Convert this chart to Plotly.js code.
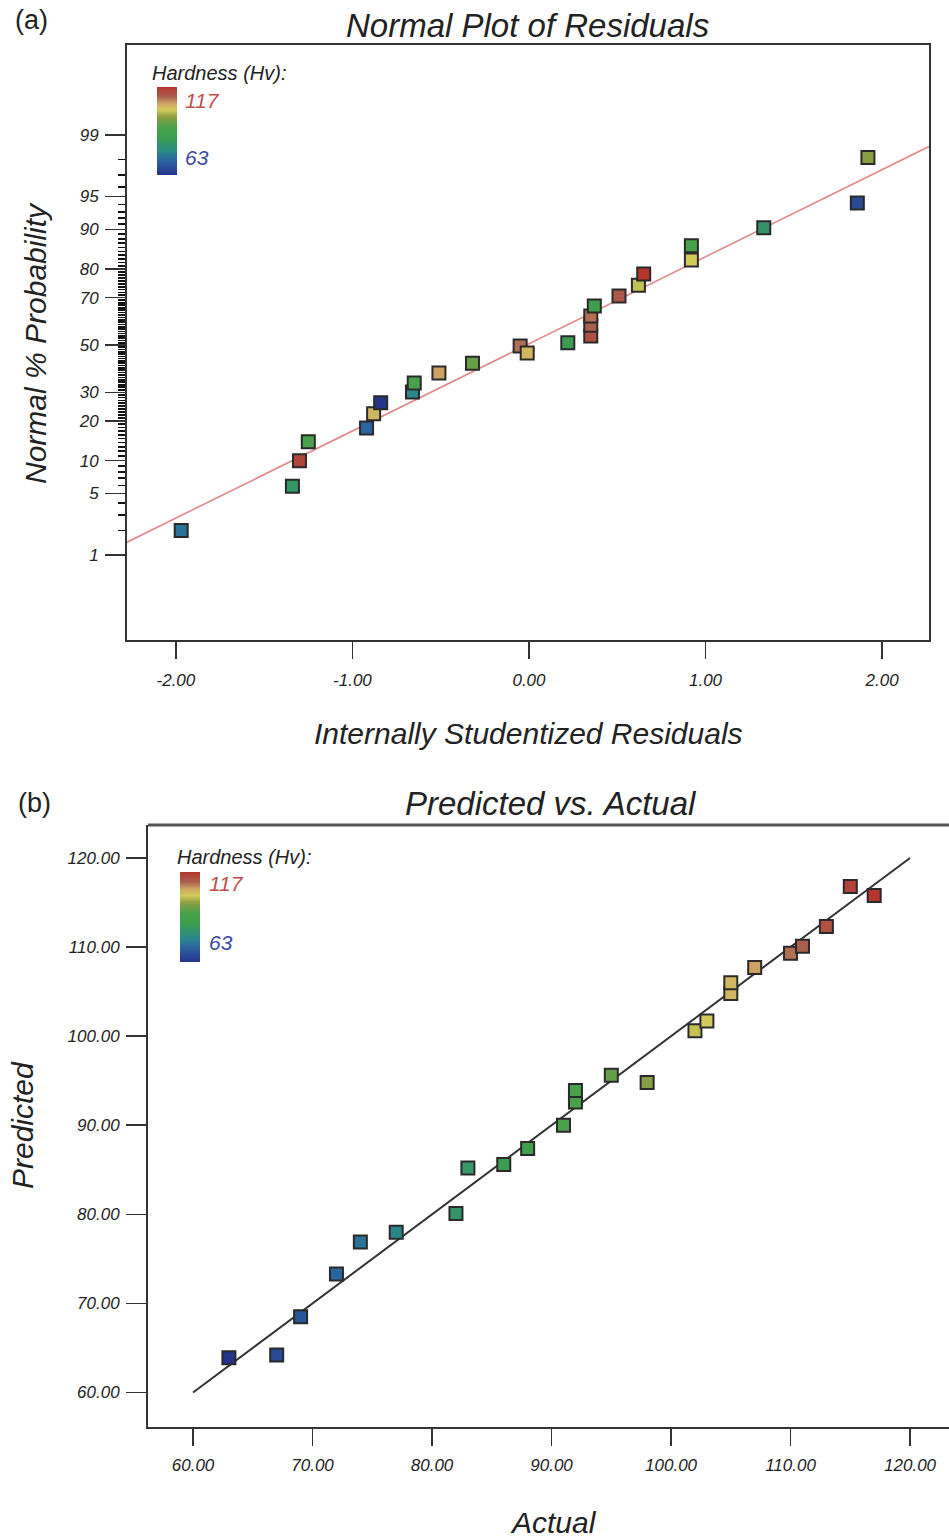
<!DOCTYPE html>
<html>
<head>
<meta charset="utf-8">
<script src="https://cdn.plot.ly/plotly-3.0.1.min.js"></script>
<style>html,body{margin:0;padding:0;background:#fff;}#chart{width:949px;height:1540px;}</style>
</head>
<body>
<div id="chart"></div>
<script>
// ---------- Data: (a) Normal plot of residuals ----------
const residualTop = [-1.97, -1.34, -1.30, -1.25, -0.92, -0.88, -0.84, -0.66, -0.65, -0.51, -0.32, -0.05, -0.01, 0.22,
                     0.35, 0.35, 0.35, 0.37, 0.51, 0.62, 0.65, 0.92, 0.92, 1.33, 1.86, 1.92];
const probTop = [2.0, 5.9, 10.0, 14.2, 17.9, 22.3, 26.1, 30.1, 33.7, 37.8, 42.0, 49.6, 46.5, 51.0,
                 54.0, 58.7, 62.6, 66.7, 70.6, 74.6, 78.4, 82.7, 86.4, 90.3, 94.2, 98.1];
const hardnessTop = [74, 83, 115, 92, 72, 105, 63, 77, 92, 107, 95, 110, 105, 86,
                     113, 111, 110, 88, 112, 102, 117, 103, 91, 82, 67, 98];
const fitLineResidual = [-2.277, 2.266];
const fitLinePercent = [1.45, 98.6];
const probTickValues = [1, 5, 10, 20, 30, 50, 70, 80, 90, 95, 99];
const probTickText = ["1", "5", "10", "20", "30", "50", "70", "80", "90", "95", "99"];
const residTickValues = [-2, -1, 0, 1, 2];
const residTickText = ["-2.00", "-1.00", "0.00", "1.00", "2.00"];

// ---------- Data: (b) Predicted vs. Actual ----------
const actualB = [63, 67, 69, 72, 74, 77, 82, 83, 86, 88, 91, 92, 92, 95, 98, 102, 103, 105, 105, 107, 110, 111, 113, 115, 117];
const predictedB = [63.9, 64.2, 68.5, 73.3, 76.9, 78.0, 80.1, 85.2, 85.6, 87.4, 90.0, 92.6, 93.9, 95.6, 94.8,
                    100.6, 101.7, 104.8, 106.0, 107.7, 109.3, 110.1, 112.3, 116.8, 115.8];
const refLineActual = [60, 120];
const refLinePredicted = [60, 120];
const legendMin = 63, legendMax = 117;

// inverse standard normal CDF (probability axis scale)
function normInv(p) {
  const a=[-3.969683028665376e+01,2.209460984245205e+02,-2.759285104469687e+02,1.383577518672690e+02,-3.066479806614716e+01,2.506628277459239e+00];
  const b=[-5.447609879822406e+01,1.615858368580409e+02,-1.556989798598866e+02,6.680131188771972e+01,-1.328068155288572e+01];
  const c=[-7.784894002430293e-03,-3.223964580411365e-01,-2.400758277161838e+00,-2.549732539343734e+00,4.374664141464968e+00,2.938163982698783e+00];
  const d=[7.784695709041462e-03,3.224671290700398e-01,2.445134137142996e+00,3.754408661907416e+00];
  const pl=0.02425, ph=1-pl; let q, r;
  if (p < pl) { q=Math.sqrt(-2*Math.log(p)); return (((((c[0]*q+c[1])*q+c[2])*q+c[3])*q+c[4])*q+c[5])/((((d[0]*q+d[1])*q+d[2])*q+d[3])*q+1); }
  if (p > ph) { q=Math.sqrt(-2*Math.log(1-p)); return -(((((c[0]*q+c[1])*q+c[2])*q+c[3])*q+c[4])*q+c[5])/((((d[0]*q+d[1])*q+d[2])*q+d[3])*q+1); }
  q=p-0.5; r=q*q; return (((((a[0]*r+a[1])*r+a[2])*r+a[3])*r+a[4])*r+a[5])*q/(((((b[0]*r+b[1])*r+b[2])*r+b[3])*r+b[4])*r+1);
}
const pz = v => normInv(v/100);
const minorPct = [];
for (let i = 1; i <= 99; i++) if (probTickValues.indexOf(i) < 0) minorPct.push(i);

const W = 949, H = 1540;
const px = v => v / W, py = v => 1 - v / H;
const FONT = "Liberation Sans, Arial, sans-serif";
const INK = '#222';
const scale = [[0,'#26358c'],[0.17,'#2b66a0'],[0.27,'#2a8a88'],[0.42,'#3a9d50'],[0.55,'#4ba24a'],
               [0.66,'#8f9e42'],[0.74,'#d2cb5c'],[0.81,'#cfa563'],[0.89,'#aa5e4e'],[1,'#b5362d']];
const tickFont = {family: FONT, size: 17, style: 'italic', color: INK};

const traces = [
  {x: fitLineResidual, y: fitLinePercent.map(pz), mode: 'lines', xaxis: 'x', yaxis: 'y',
   line: {color: '#e08a8a', width: 1.6}, hoverinfo: 'skip'},
  {x: residualTop, y: probTop.map(pz), mode: 'markers', xaxis: 'x', yaxis: 'y', text: probTop,
   marker: {symbol: 'square', size: 13, color: hardnessTop, coloraxis: 'coloraxis',
            line: {color: '#2a2a2a', width: 2}}},
  {x: refLineActual, y: refLinePredicted, mode: 'lines', xaxis: 'x2', yaxis: 'y2',
   line: {color: '#333', width: 2}, hoverinfo: 'skip'},
  {x: actualB, y: predictedB, mode: 'markers', xaxis: 'x2', yaxis: 'y2',
   marker: {symbol: 'square', size: 13, color: actualB, coloraxis: 'coloraxis2',
            line: {color: '#2a2a2a', width: 2}}}
];

function cbar(xLeft, yCenter, lenPx) {
  return {x: px(xLeft), xanchor: 'left', y: py(yCenter), yanchor: 'middle', len: lenPx, lenmode: 'pixels',
          thickness: 20, xpad: 0, ypad: 0, outlinewidth: 0, showticklabels: false, ticks: ''};
}

function ann(text, x, y, size, opts) {
  return Object.assign({text: text, x: px(x), y: py(y), xref: 'paper', yref: 'paper', showarrow: false,
    xanchor: 'center', yanchor: 'middle', font: {family: FONT, size: size, style: 'italic', color: INK}}, opts || {});
}

const layout = {
  width: W, height: H, margin: {l: 0, r: 0, t: 0, b: 0, pad: 0},
  paper_bgcolor: '#fff', plot_bgcolor: '#fff', showlegend: false,
  xaxis: {domain: [px(127), px(929)], range: [-2.277, 2.266], anchor: 'y', showline: true, mirror: true,
    linecolor: '#333', linewidth: 2, ticks: 'outside', ticklen: 17, tickwidth: 1.5, tickcolor: '#333',
    tickvals: residTickValues, ticktext: residTickText, showgrid: false, zeroline: false,
    tickfont: tickFont, automargin: false, ticklabelstandoff: 7},
  yaxis: {domain: [py(640), py(45)], range: [-3.267, 3.322], anchor: 'x', showline: true, mirror: true,
    linecolor: '#333', linewidth: 2, ticks: 'outside', ticklen: 20, tickwidth: 1.5, tickcolor: '#333',
    tickvals: probTickValues.map(pz), ticktext: probTickText, showgrid: false, zeroline: false,
    tickfont: tickFont, automargin: false, ticklabelstandoff: 3,
    minor: {tickmode: 'array', tickvals: minorPct.map(pz), ticks: 'outside', ticklen: 7, tickwidth: 1.6, tickcolor: '#111', showgrid: false}},
  xaxis2: {domain: [px(148), 1], range: [56.23, 123.26], anchor: 'y2', showline: true, mirror: false,
    linecolor: '#333', linewidth: 2, ticks: 'outside', ticklen: 17, tickwidth: 1.5, tickcolor: '#333',
    tick0: 60, dtick: 10, tickformat: '.2f', showgrid: false, zeroline: false,
    tickfont: tickFont, automargin: false, ticklabelstandoff: 5},
  yaxis2: {domain: [py(1427), py(825)], range: [56.13, 123.70], anchor: 'x2', showline: true, mirror: false,
    linecolor: '#333', linewidth: 2, ticks: 'outside', ticklen: 20, tickwidth: 1.5, tickcolor: '#333',
    tick0: 60, dtick: 10, tickformat: '.2f', showgrid: false, zeroline: false,
    tickfont: tickFont, automargin: false, ticklabelstandoff: 3},
  coloraxis: {cmin: legendMin, cmax: legendMax, colorscale: scale, colorbar: cbar(157, 131, 88)},
  coloraxis2: {cmin: legendMin, cmax: legendMax, colorscale: scale, colorbar: cbar(180, 917, 90)},
  shapes: [
    {type: 'line', xref: 'x2 domain', yref: 'y2 domain', x0: 0, x1: 1.02, y0: 1, y1: 1,
     line: {color: '#555', width: 3}}
  ],
  annotations: [
    ann('(a)', 32, 20, 27, {font: {family: FONT, size: 27, color: INK}}),
    ann('Normal Plot of Residuals', 527, 25, 33),
    ann('Normal % Probability', 36, 343, 30, {textangle: -90}),
    ann('Internally Studentized Residuals', 528, 733, 30),
    ann('Hardness (Hv):', 150, 73, 20, {xanchor: 'left'}),
    ann('117', 183, 100, 21, {xanchor: 'left', font: {family: FONT, size: 21, style: 'italic', color: '#c0504d'}}),
    ann('63', 183, 157, 21, {xanchor: 'left', font: {family: FONT, size: 21, style: 'italic', color: '#3b4aa0'}}),
    ann('(b)', 34, 803, 27, {font: {family: FONT, size: 27, color: INK}}),
    ann('Predicted vs. Actual', 551, 803, 33),
    ann('Predicted', 22, 1125, 30, {textangle: -90}),
    ann('Actual', 553, 1522, 30),
    ann('Hardness (Hv):', 175, 857, 20, {xanchor: 'left'}),
    ann('117', 207, 883, 21, {xanchor: 'left', font: {family: FONT, size: 21, style: 'italic', color: '#c0504d'}}),
    ann('63', 207, 942, 21, {xanchor: 'left', font: {family: FONT, size: 21, style: 'italic', color: '#3b4aa0'}})
  ]
};

Plotly.newPlot('chart', traces, layout, {displayModeBar: false, staticPlot: true});
</script>
</body>
</html>
